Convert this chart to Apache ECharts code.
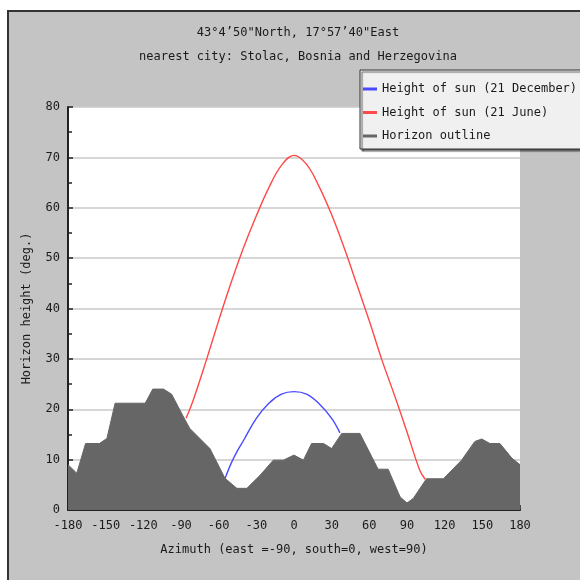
<!DOCTYPE html>
<html>
<head>
<meta charset="utf-8">
<script src="https://cdn.jsdelivr.net/npm/echarts@6/dist/echarts.min.js"></script>
<style>
  html, body { margin: 0; padding: 0; background: #ffffff; }
  #panel { position: absolute; left: 7px; top: 10px; width: 573px; height: 570px;
           background: #c4c4c4; border-left: 2px solid #333; border-top: 2px solid #333; box-sizing: border-box; }
  #chart { position: absolute; left: 0; top: 0; width: 580px; height: 580px; }
</style>
</head>
<body>
<div id="panel"></div>
<div id="chart"></div>
<script>
const titleLines = ['43°4’50"North, 17°57’40"East', 'nearest city: Stolac, Bosnia and Herzegovina'];
const seriesNames = ['Height of sun (21 December)', 'Height of sun (21 June)', 'Horizon outline'];
const xTicks = { min: -180, max: 180, interval: 30 };
const yTicks = { min: 0, max: 80, interval: 10 };

// [azimuth, height]
const sunDecember = [
  [-55, 6.2], [-50, 9.3], [-45, 11.8], [-40, 13.9], [-30, 18.2], [-20, 21.2], [-10, 23.0],
  [0, 23.5], [10, 23.0], [20, 21.1], [30, 18.2], [36.6, 15.3]
];
const sunJune = [
  [-86, 18.2], [-80, 22.0], [-70, 29.6], [-60, 37.6], [-50, 45.2], [-40, 52.2], [-30, 58.4],
  [-20, 64.0], [-10, 68.4], [0, 70.4], [10, 68.6], [20, 64.2], [30, 58.6], [40, 52.0],
  [50, 44.8], [60, 37.5], [70, 29.8], [80, 22.8], [90, 15.5], [100, 8.0], [104.5, 6.1]
];
const horizon = [
  [-180, 9], [-173, 7.3], [-166, 13.2], [-155, 13.2], [-149, 14.2], [-142.5, 21.2],
  [-118.5, 21.2], [-112.5, 24], [-104, 24], [-97.5, 23], [-87, 18], [-83, 16.2],
  [-67, 12.2], [-55, 6.3], [-45.5, 4.3], [-37.5, 4.3], [-27, 6.9], [-16.5, 9.9],
  [-8.5, 9.9], [0, 10.9], [7.5, 9.9], [14, 13.2], [23.5, 13.2], [30, 12.2], [38, 15.2],
  [52.5, 15.2], [67, 8.1], [75, 8.1], [84.5, 2.6], [90, 1.4], [95, 2.3], [105.5, 6.2],
  [119, 6.2], [133.5, 9.9], [144, 13.6], [149.5, 14.1], [156, 13.2], [164, 13.2],
  [173.5, 10.3], [180, 9]
];

const FONT = 'DejaVu Sans Mono';
const TXT = '#1a1a1a';
const chart = echarts.init(document.getElementById('chart'), null, { renderer: 'canvas' });
chart.setOption({
  backgroundColor: 'transparent',
  animation: false,
  title: {
    text: titleLines.join('\n'),
    left: 293, textAlign: 'center', top: 16,
    textStyle: { fontFamily: FONT, fontSize: 12, fontWeight: 'normal', color: TXT, lineHeight: 24 }
  },
  legend: {
    orient: 'vertical', left: 360, top: 70, width: 240,
    padding: [12, 20, 6, 3],
    itemGap: 9.5, itemWidth: 14, itemHeight: 3,
    icon: 'rect',
    backgroundColor: '#f0f0f0', borderColor: '#333', borderWidth: 1,
    shadowColor: 'rgba(0,0,0,0.6)', shadowOffsetX: 2, shadowOffsetY: 2, shadowBlur: 1,
    textStyle: { fontFamily: FONT, fontSize: 12, color: TXT, height: 14, lineHeight: 14 },
    data: seriesNames
  },
  grid: { left: 68, right: 60, top: 107, bottom: 70, show: true, backgroundColor: '#ffffff', borderWidth: 0 },
  xAxis: {
    type: 'value', min: xTicks.min, max: xTicks.max, interval: xTicks.interval,
    name: 'Azimuth (east =-90, south=0, west=90)', nameLocation: 'middle', nameGap: 34,
    nameTextStyle: { fontFamily: FONT, fontSize: 12, color: TXT },
    axisLine: { onZero: false, lineStyle: { color: '#222', width: 2 } },
    axisTick: { inside: true, length: 5, lineStyle: { color: '#222', width: 1.5 } },
    axisLabel: { fontFamily: FONT, fontSize: 12, color: TXT, margin: 10 },
    splitLine: { show: false }
  },
  yAxis: {
    type: 'value', min: yTicks.min, max: yTicks.max, interval: yTicks.interval,
    name: 'Horizon height (deg.)', nameLocation: 'middle', nameGap: 35,
    nameTextStyle: { fontFamily: FONT, fontSize: 12, color: TXT },
    axisLine: { show: true, onZero: false, lineStyle: { color: '#222', width: 2 } },
    axisTick: { show: true, inside: true, length: 5, lineStyle: { color: '#222', width: 1.5 } },
    minorTick: { show: true, splitNumber: 2, length: 4, lineStyle: { color: '#222', width: 1.5 } },
    axisLabel: { fontFamily: FONT, fontSize: 12, color: TXT, margin: 8 },
    splitLine: { show: true, lineStyle: { color: '#c8c8c8', width: 1.5 } }
  },
  series: [
    { name: seriesNames[0], type: 'line', data: sunDecember, smooth: 0.4, symbol: 'none',
      color: '#4a4aff', lineStyle: { width: 1.4, color: '#4a4aff' }, z: 3 },
    { name: seriesNames[1], type: 'line', data: sunJune, smooth: 0.4, symbol: 'none',
      color: '#ff4848', lineStyle: { width: 1.4, color: '#ff4848' }, z: 3 },
    { name: seriesNames[2], type: 'line', data: horizon, symbol: 'none',
      color: '#666666', lineStyle: { width: 1, color: '#666666' },
      areaStyle: { color: '#666666', opacity: 1 }, z: 4 }
  ]
});
</script>
</body>
</html>
